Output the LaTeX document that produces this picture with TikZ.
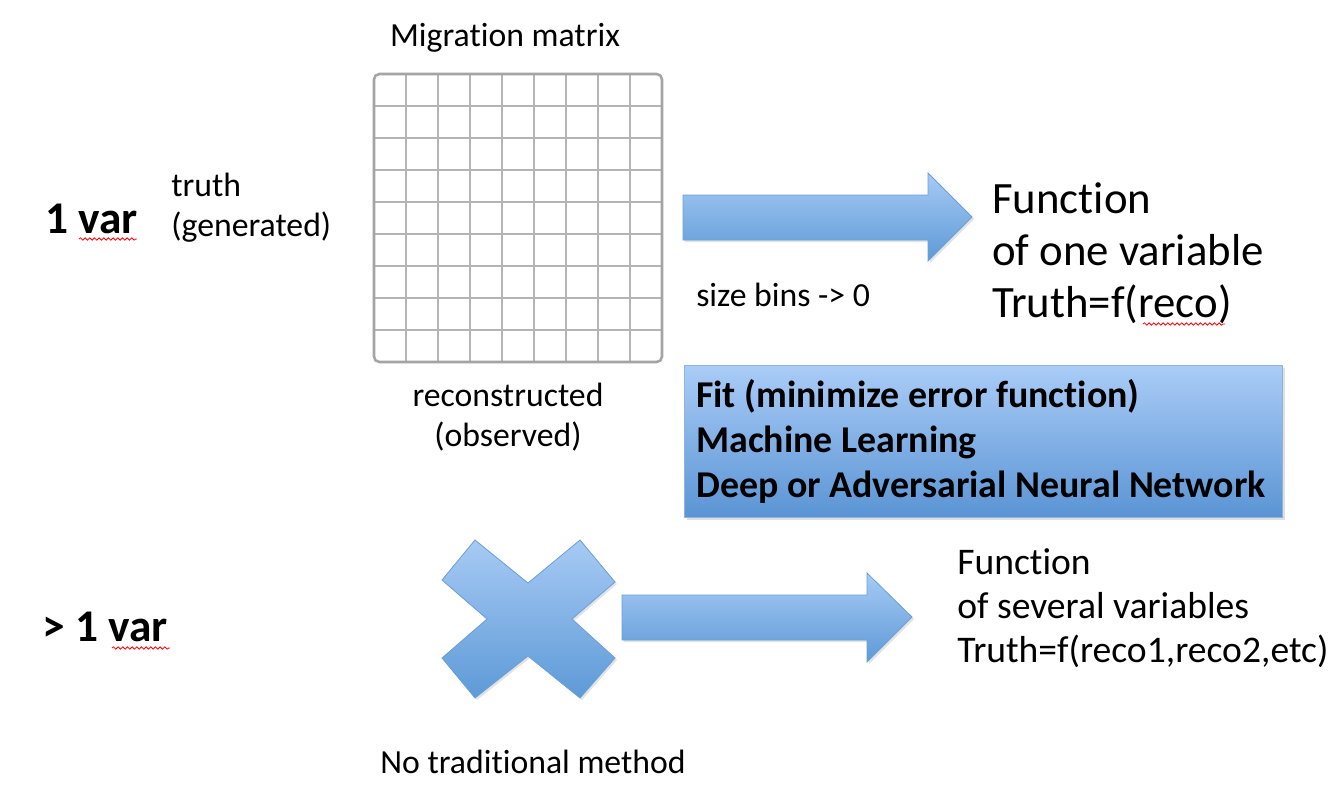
\documentclass[tikz,border=0pt]{standalone}
\usepackage{fontspec}
\setmainfont{Carlito}[Ligatures={TeX,NoCommon}]
\usetikzlibrary{shadows,decorations.pathmorphing}
\definecolor{blueTop}{HTML}{A7CAF4}
\definecolor{blueBot}{HTML}{5D9AD7}
\definecolor{blueEdge}{HTML}{6B9FD9}
\definecolor{gridgray}{HTML}{B4B4B4}
\definecolor{framegray}{HTML}{A4A4A4}
\definecolor{boxTop}{HTML}{AACCF7}
\definecolor{boxBot}{HTML}{5A94D4}
\definecolor{boxEdge}{HTML}{8FB3DF}
\begin{document}
\begin{tikzpicture}[x=0.75pt,y=-0.75pt,
  txt/.style={inner sep=0pt, font=\fontsize{25.3pt}{30pt}\selectfont, text=black},
  big/.style={inner sep=0pt, font=\fontsize{33.6pt}{40pt}\selectfont, text=black},
  mid/.style={inner sep=0pt, font=\fontsize{28.2pt}{33pt}\selectfont, text=black},
  boldbig/.style={inner sep=0pt, font=\bfseries\fontsize{34pt}{40pt}\selectfont, text=black},
  boxtxt/.style={inner sep=0pt, font=\bfseries\fontsize{28.4pt}{33pt}\selectfont, text=black},
  blockshape/.style={top color=blueTop, bottom color=blueBot, draw=blueEdge, line width=0.6pt,
    drop shadow={opacity=0.22, shadow xshift=1.5pt, shadow yshift=-1.5pt}},
  methodbox/.style={top color=boxTop, bottom color=boxBot, draw=boxEdge, line width=0.8pt,
    inner sep=0pt, minimum width=448.5pt, minimum height=114pt,
    drop shadow={opacity=0.25, shadow xshift=2pt, shadow yshift=-2pt}},
  squiggle/.style={draw=red, line width=0.6pt, decorate, decoration={snake, amplitude=0.9pt, segment length=3.5pt}},
  gridline/.style={draw=gridgray, line width=1.6pt},
  matframe/.style={draw=framegray, line width=1.9pt, rounded corners=4pt, inner sep=0pt,
    minimum width=216pt, minimum height=216pt}
]
\useasboundingbox (0,0) rectangle (1340,792);
\fill[white] (0,0) rectangle (1340,792);

% migration matrix
\foreach \i in {1,...,8} {
  \draw[gridline] (374+32*\i,74) -- (374+32*\i,362);
  \draw[gridline] (374,74+32*\i) -- (662,74+32*\i);
}
\node[matframe] (mat) at (518,218) {};

% top block arrow
\draw[blockshape] (683,195) -- (928,195) -- (928,173) -- (972,217) -- (928,261) -- (928,240) -- (683,240) -- cycle;

% method box
\node[methodbox, anchor=north west] (methods) at (684,365) {};

% cross
\draw[blockshape] (442,580) -- (475,540) -- (528,583) -- (580,540) -- (615,582) -- (572,619)
  -- (615,658) -- (580,698) -- (528,656) -- (475,698) -- (442,658) -- (487,619) -- cycle;

% lower block arrow
\draw[blockshape] (622,595) -- (867,595) -- (867,573) -- (912,617) -- (867,662) -- (867,640) -- (622,640) -- cycle;

% texts
\node[txt, anchor=base] (mm) at (505,47) {Migration matrix};
\node[boldbig, anchor=base west] (onevar) at (45,233) {1 var};
\node[txt, anchor=base west] (truth) at (171,196) {truth};
\node[txt, anchor=base west] (gen) at (171,236) {(generated)};
\node[txt, anchor=base] (recon) at (508,406) {reconstructed};
\node[txt, anchor=base] (obs) at (508,446) {(observed)};
\node[txt, anchor=base west] (size) at (696,306) {size bins -> 0};

\node[big, anchor=base west] (f1) at (992,213) {Function};
\node[big, anchor=base west] (f2) at (992,265) {of one variable};
\node[big, anchor=base west] (f3) at (992,317) {Truth=f(reco)};

\node[boxtxt, anchor=base west] (b1) at (696,407) {Fit (minimize error function)};
\node[boxtxt, anchor=base west] (b2) at (696,452) {Machine Learning};
\node[boxtxt, anchor=base west] (b3) at (696,497) {Deep or Adversarial Neural Network};

\node[boldbig, anchor=base west] (multivar) at (42,641) {> 1 var};
\node[mid, anchor=base west] (g1) at (957,574) {Function};
\node[mid, anchor=base west] (g2) at (957,618) {of several variables};
\node[mid, anchor=base west] (g3) at (957,662) {Truth=f(reco1,reco2,etc)};
\node[txt, anchor=base] (notrad) at (533,773) {No traditional method};

% spell-check squiggles
\draw[squiggle] (79,239) -- (137,239);
\draw[squiggle] (112,648) -- (170,648);
\draw[squiggle] (1143,324) -- (1225,324);
\end{tikzpicture}
\end{document}
